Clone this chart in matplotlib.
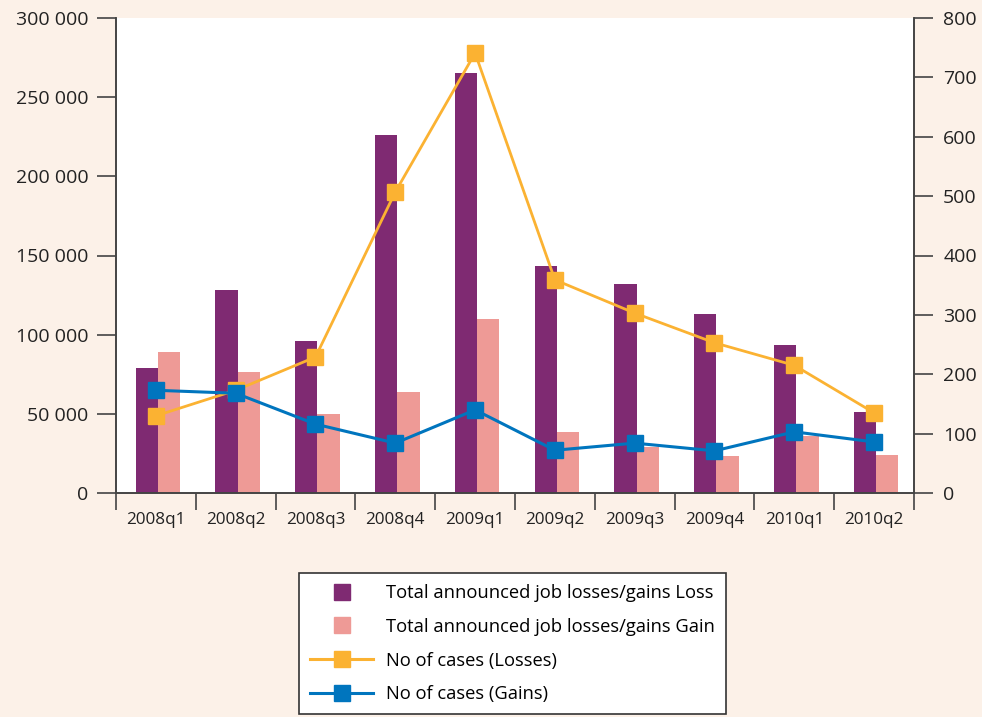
import matplotlib.pyplot as plt
import numpy as np
from matplotlib.lines import Line2D
from matplotlib.ticker import FuncFormatter, FixedLocator

quarters = ['2008q1', '2008q2', '2008q3', '2008q4', '2009q1',
            '2009q2', '2009q3', '2009q4', '2010q1', '2010q2']
job_loss = [79000, 128000, 96000, 226000, 265000, 143500, 132000, 113000, 93500, 51000]
job_gain = [89000, 76500, 50000, 64000, 110000, 38500, 29000, 23500, 36000, 24000]
cases_losses = [130, 173, 229, 507, 741, 359, 303, 253, 215, 135]
cases_gains = [173, 168, 116, 84, 140, 72, 84, 71, 103, 86]

bg = '#fcf1e8'
purple = '#7f2a72'
pink = '#ee9a96'
orange = '#fbb232'
blue = '#0075be'
axcol = '#444444'

plt.rcParams['font.family'] = ['Open Sans', 'DejaVu Sans']

fig = plt.figure(figsize=(9.82, 7.17), dpi=100, facecolor=bg)
ax = fig.add_axes([116/982, 1-493/717, (914-116)/982, (493-18)/717])
ax.set_facecolor('white')

x = np.arange(len(quarters))
w = 0.28
ax.bar(x - w/2 + 0.025, job_loss, w, color=purple)
ax.bar(x + w/2 + 0.025, job_gain, w, color=pink)

ax.set_xlim(-0.5, len(quarters) - 0.5)
ax.set_ylim(0, 300000)
ax.set_yticks(np.arange(0, 300001, 50000))
ax.yaxis.set_major_formatter(FuncFormatter(lambda v, p: f'{int(v):,}'.replace(',', ' ')))
ax.set_xticks(x)
ax.set_xticklabels(quarters)
ax.xaxis.set_minor_locator(FixedLocator(np.arange(-0.5, len(quarters), 1)))
ax.tick_params(axis='x', which='major', length=0, pad=14, labelsize=12.3, colors='#222222')
ax.tick_params(axis='x', which='minor', length=12, width=1.2, color=axcol, direction='out')
ax.tick_params(axis='y', length=14, width=1.2, color=axcol, pad=6, labelsize=14, labelcolor='#222222')

ax.spines['top'].set_visible(False)
for s in ['left', 'bottom', 'right']:
    ax.spines[s].set_color(axcol)
    ax.spines[s].set_linewidth(1.2)

ax2 = ax.twinx()
ax2.plot(x, cases_losses, color=orange, lw=2, marker='s', markersize=12, zorder=3)
ax2.plot(x, cases_gains, color=blue, lw=2.2, marker='s', markersize=12, zorder=4)
ax2.set_ylim(0, 800)
ax2.set_yticks(np.arange(0, 801, 100))
ax2.tick_params(axis='y', length=14, width=1.2, color=axcol, pad=7, labelsize=14, labelcolor='#222222')
ax2.spines['top'].set_visible(False)
for s in ['left', 'bottom', 'right']:
    ax2.spines[s].set_color(axcol)
    ax2.spines[s].set_linewidth(1.2)

handles = [
    Line2D([], [], ls='none', marker='s', markersize=11, color=purple),
    Line2D([], [], ls='none', marker='s', markersize=11, color=pink),
    Line2D([], [], color=orange, lw=2.2, marker='s', markersize=11),
    Line2D([], [], color=blue, lw=2.2, marker='s', markersize=11),
]
labels = ['Total announced job losses/gains Loss',
          'Total announced job losses/gains Gain',
          'No of cases (Losses)',
          'No of cases (Gains)']
leg = fig.legend(handles, labels, loc='upper left', bbox_to_anchor=(299/982, 1-573/717),
                 frameon=True, fancybox=False, edgecolor='#333333', facecolor='white',
                 fontsize=13.2, handlelength=3.45, handletextpad=0.7, labelspacing=0.86,
                 borderpad=0.6, borderaxespad=0)
leg.get_frame().set_linewidth(1.2)
leg.get_frame().set_alpha(1)

fig.savefig('out.png', dpi=100, facecolor=bg)
